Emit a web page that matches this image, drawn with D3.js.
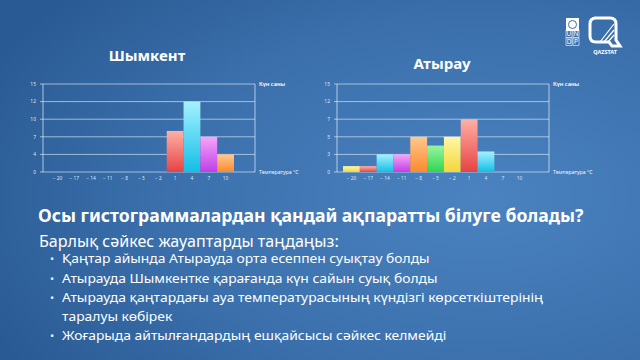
<!DOCTYPE html>
<html>
<head>
<meta charset="utf-8">
<script src="https://cdn.jsdelivr.net/npm/d3@7"></script>
<style>
  html, body { margin: 0; padding: 0; background: #2f64a0; }
  svg { display: block; }
</style>
</head>
<body>
<svg id="chart" width="640" height="360"></svg>
<script>
// Temperature bins (°C) shared by both histograms.
const categories = [-20, -17, -14, -11, -8, -5, -2, 1, 4, 7, 10];
// Days per bin (grid step = 3 days).
const shymkentDays = [0, 0, 0, 0, 0, 0, 0, 7, 12, 6, 3];
const atyrauDays = [1, 1, 3, 3, 6, 4.5, 6, 9, 3.5, 0, 0];
// Y grid positions and the (odd) labels printed on the slide.
const gridValues = [0, 3, 6, 9, 12, 15];
const shymkentYLabels = ['0', '4', '7', '10', '12', '15'];
const atyrauYLabels = ['0', '3', '5', '7', '12', '15'];

const questionTitle = 'Осы гистограммалардан қандай ақпаратты білуге болады?';
const questionHint = 'Барлық сәйкес жауаптарды таңдаңыз:';
const answers = [
  ['Қаңтар айында Атырауда орта есеппен суықтау болды'],
  ['Атырауда Шымкентке қарағанда күн сайын суық болды'],
  ['Атырауда қаңтардағы ауа температурасының күндізгі көрсеткіштерінің', 'таралуы көбірек'],
  ['Жоғарыда айтылғандардың ешқайсысы сәйкес келмейді'],
];

// colour cycle follows the bin index (same bin -> same hue in both charts)
const palette = [
  ['#fff7a8', '#f3d738'], // yellow
  ['#ffb0a6', '#e64343'], // red
  ['#a6f1ff', '#12bfe6'], // cyan
  ['#f5a6fa', '#c03ee6'], // magenta
  ['#ffc88e', '#fb8a2c'], // orange
  ['#98f5a2', '#2fd64e'], // green
];

const width = 640;
const height = 360;
const font = "'Noto Sans', 'Open Sans', sans-serif";
const svg = d3.select('#chart');
const defs = svg.append('defs');

// background
const bg = defs.append('radialGradient').attr('id', 'bg')
  .attr('cx', '75%').attr('cy', '55%').attr('r', '85%');
bg.append('stop').attr('offset', '0%').attr('stop-color', '#4a83c0');
bg.append('stop').attr('offset', '60%').attr('stop-color', '#3a6fab');
bg.append('stop').attr('offset', '100%').attr('stop-color', '#2a5a93');
svg.append('rect').attr('width', width).attr('height', height).attr('fill', 'url(#bg)');

palette.forEach(([top, bottom], i) => {
  const lg = defs.append('linearGradient').attr('id', `bar${i}`)
    .attr('x1', 0).attr('y1', 0).attr('x2', 0).attr('y2', 1);
  lg.append('stop').attr('offset', '0%').attr('stop-color', top);
  lg.append('stop').attr('offset', '100%').attr('stop-color', bottom);
});

function drawHistogram({ left, top, plotW, plotH, values, yLabels, title, titleX, titleY }) {
  const g = svg.append('g').attr('transform', `translate(${left},${top})`);

  const x = d3.scaleBand().domain(categories).range([6, 191]).padding(0);
  const y = d3.scaleLinear().domain([0, 15]).range([plotH, 0]);
  const line = 'rgba(235,245,255,0.75)';

  // grid
  g.append('g')
    .selectAll('line')
    .data(gridValues)
    .join('line')
    .attr('x1', -3).attr('x2', plotW)
    .attr('y1', (d) => y(d)).attr('y2', (d) => y(d))
    .attr('stroke', line).attr('stroke-width', 0.8);

  // left and right verticals
  [0, plotW].forEach((px) => {
    g.append('line').attr('x1', px).attr('x2', px).attr('y1', 0).attr('y2', plotH)
      .attr('stroke', line).attr('stroke-width', 0.9);
  });

  g.append('g')
    .selectAll('text')
    .data(gridValues)
    .join('text')
    .attr('x', -7).attr('y', (d) => y(d) + 1.8)
    .attr('text-anchor', 'end')
    .attr('font-family', font).attr('font-size', 5)
    .attr('fill', '#d7e6f7')
    .text((d, i) => yLabels[i]);

  g.append('g')
    .selectAll('rect')
    .data(categories.map((c, i) => ({ c, i, v: values[i] })).filter((d) => d.v > 0))
    .join('rect')
    .attr('x', (d) => x(d.c))
    .attr('width', x.bandwidth())
    .attr('y', (d) => y(d.v))
    .attr('height', (d) => plotH - y(d.v))
    .attr('fill', (d) => `url(#bar${d.i % palette.length})`);

  g.append('g')
    .selectAll('text')
    .data(categories)
    .join('text')
    .attr('x', (d) => x(d) + x.bandwidth() / 2)
    .attr('y', plotH + 7.5)
    .attr('text-anchor', 'middle')
    .attr('font-family', font).attr('font-size', 4.8)
    .attr('fill', '#d7e6f7')
    .text((d) => (d < 0 ? `− ${-d}` : d));

  g.append('text')
    .attr('x', plotW + 4).attr('y', 2)
    .attr('font-family', font).attr('font-size', 5.6).attr('font-weight', 600)
    .attr('fill', '#ffffff')
    .text('Күн саны');
  g.append('text')
    .attr('x', plotW + 4).attr('y', plotH + 2)
    .attr('font-family', font).attr('font-size', 5.2)
    .attr('fill', '#eef5ff')
    .text('Температура °С');

  svg.append('text')
    .attr('x', titleX).attr('y', titleY)
    .attr('text-anchor', 'middle')
    .attr('font-family', font).attr('font-size', 15).attr('font-weight', 700)
    .attr('fill', '#ffffff')
    .text(title);
}

drawHistogram({ left: 43, top: 84, plotW: 212, plotH: 88, values: shymkentDays,
  yLabels: shymkentYLabels, title: 'Шымкент', titleX: 147, titleY: 61 });
drawHistogram({ left: 337, top: 84, plotW: 212, plotH: 88, values: atyrauDays,
  yLabels: atyrauYLabels, title: 'Атырау', titleX: 442, titleY: 69 });

// fit a text node to a target width by adjusting its font size
function fitWidth(sel, target) {
  const w = sel.node().getComputedTextLength();
  const fs = parseFloat(sel.attr('font-size'));
  sel.attr('font-size', fs * target / w);
}

const heading = svg.append('text')
  .attr('x', 38).attr('y', 222)
  .attr('font-family', font).attr('font-size', 17).attr('font-weight', 700)
  .attr('fill', '#ffffff').text(questionTitle);
fitWidth(heading, 546);

const hint = svg.append('text')
  .attr('x', 39).attr('y', 247)
  .attr('font-family', font).attr('font-size', 15)
  .attr('fill', '#ffffff').text(questionHint);
fitWidth(hint, 300);

// the slide font is wider than ours: stretch glyphs horizontally
const answerStretch = 1.1;
let lineY = 263;
const answerG = svg.append('g');
answers.forEach((lines) => {
  answerG.append('text')
    .attr('x', 50).attr('y', lineY)
    .attr('font-family', font).attr('font-size', 11)
    .attr('fill', '#e8f0fa').text('•');
  lines.forEach((t) => {
    const tx = answerG.append('text')
      .attr('x', 62).attr('y', lineY)
      .attr('font-family', font).attr('font-size', 12.6)
      .attr('fill', '#ffffff').text(t);
    tx.attr('textLength', tx.node().getComputedTextLength() * answerStretch)
      .attr('lengthAdjust', 'spacingAndGlyphs');
    lineY += 18.5;
  });
  lineY += 1;
});

// logos (UNDP + QAZSTAT), simplified
const logo = svg.append('g').attr('transform', 'translate(566,18)');
logo.append('rect').attr('width', 13).attr('height', 13).attr('fill', '#ffffff');
logo.append('circle').attr('cx', 6.5).attr('cy', 6.5).attr('r', 4)
  .attr('fill', 'none').attr('stroke', '#3a6fab').attr('stroke-width', 1);
[['U', 0, 19], ['N', 7, 19], ['D', 0, 27], ['P', 7, 27]].forEach(([ch, dx, dy]) => {
  logo.append('rect').attr('x', dx).attr('y', dy - 7).attr('width', 6).attr('height', 7.5)
    .attr('fill', 'none').attr('stroke', '#ffffff').attr('stroke-width', 0.6);
  logo.append('text').attr('x', dx + 3).attr('y', dy - 0.8).attr('text-anchor', 'middle')
    .attr('font-family', font).attr('font-size', 6.5).attr('fill', '#ffffff').text(ch);
});
const q = svg.append('g').attr('transform', 'translate(590,18)');
q.append('path')
  .attr('d', 'M4,0 H20 Q26,0 26,6 V22 L30,28 H22 L19,24 H6 Q0,24 0,18 V6 Q0,0 6,0 Z')
  .attr('fill', 'none').attr('stroke', '#ffffff').attr('stroke-width', 3);
q.append('path').attr('d', 'M10,24 L24,6 M14,24 L24,12 M18,24 L24,17')
  .attr('stroke', '#ffffff').attr('stroke-width', 1.2);
q.append('text').attr('x', 15).attr('y', 36).attr('text-anchor', 'middle')
  .attr('font-family', font).attr('font-size', 5.5).attr('font-weight', 700)
  .attr('fill', '#ffffff').text('QAZSTAT');
</script>
</body>
</html>
